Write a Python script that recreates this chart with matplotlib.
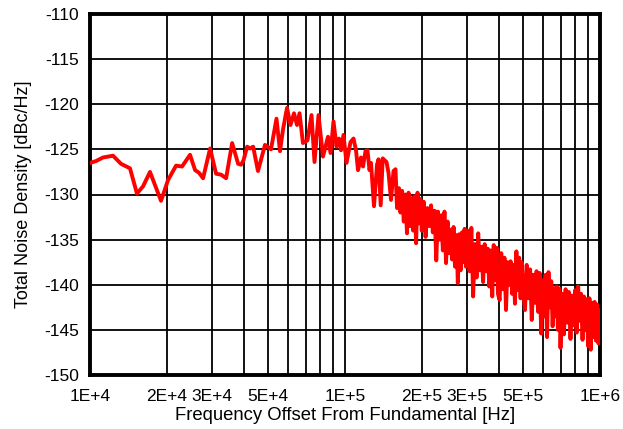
import numpy as np
import matplotlib
matplotlib.use("Agg")
import matplotlib.pyplot as plt

plt.rcParams["font.family"] = ["Liberation Sans", "DejaVu Sans"]

# Offset frequency (kHz) and total noise density (dBc/Hz)
freq_khz = [
    # 10 kHz - 100 kHz
    10.0, 10.55, 11.24, 12.31, 13.23, 14.35, 15.28, 16.14, 17.19, 18.99,
    20.23, 21.75, 22.96, 24.67, 25.83, 26.78, 27.76, 29.58, 31.22, 32.66,
    34.18, 36.09, 38.10, 39.14, 40.00, 41.33, 42.46, 43.63, 45.58, 48.56,
    51.26, 53.87, 55.60, 57.13, 59.24, 61.14, 63.10, 64.83, 66.32, 68.42,
    71.26, 73.90, 75.93, 78.73, 81.96, 85.77, 87.73, 90.14, 92.61, 94.73,
    96.45, 98.65,
    # 100 kHz - 165 kHz
    101.36, 105.09, 107.98, 110.45, 112.46, 115.55, 117.65, 120.33, 122.53, 124.76,
    126.46, 129.93, 133.50, 135.32, 138.04, 140.56, 145.47, 148.12, 151.50, 154.96,
    157.79, 159.94, 162.85,
    # 165 kHz - 200 kHz
    165, 167.5, 170, 172.5, 175, 177.5, 180, 182.5, 185, 187.5,
    190, 192.5, 195, 197.5, 200,
    # 200 kHz - 300 kHz
    203.5, 207, 210.5, 214, 217.5, 221, 224.5, 228, 231.5, 235,
    238.5, 242, 245.5, 249, 252.5, 256, 259.5, 263, 266.5, 270,
    273.5, 277, 280.5, 284, 287.5, 291, 294.5, 298,
    # 300 kHz - 400 kHz
    303, 308, 313, 318, 323, 328, 333, 338, 343, 348,
    353, 358, 363, 368, 373, 378, 383, 388, 393, 398,
    # 400 kHz - 500 kHz
    404, 410, 416, 422, 428, 434, 440, 446, 452, 458,
    464, 470, 476, 482, 488, 494, 500,
    # 500 kHz - 700 kHz
    508, 516, 524, 532, 540, 548, 556, 564, 572, 580,
    588, 596, 604, 612, 620, 628, 636, 644, 652, 660,
    668, 676, 684, 692, 700,
    # 700 kHz - 1 MHz
    711, 722, 733, 744, 755, 766, 777, 788, 799, 810,
    821, 832, 843, 854, 865, 876, 887, 898, 909, 920,
    931, 942, 953, 964, 975, 986, 997,
]

noise_dbc = [
    # 10 kHz - 100 kHz
    -126.5, -126.3, -125.9, -125.7, -126.6, -127.1, -129.9, -129.1, -127.5, -130.7,
    -128.4, -126.8, -126.9, -125.6, -127.3, -127.6, -128.2, -124.9, -127.7, -127.8,
    -128.2, -124.3, -126.6, -126.7, -126.2, -124.7, -124.9, -124.7, -127.4, -124.5,
    -125.0, -121.6, -125.2, -122.8, -120.4, -122.3, -121.0, -122.3, -121.0, -124.3,
    -124.0, -121.2, -126.4, -121.2, -125.8, -123.6, -125.4, -121.9, -124.7, -123.8,
    -125.1, -123.4,
    # 100 kHz - 165 kHz
    -126.5, -124.2, -123.8, -125.1, -127.3, -125.9, -126.9, -125.2, -125.1, -127.3,
    -126.5, -131.3, -126.7, -126.1, -131.2, -126.0, -126.4, -127.6, -130.6, -127.4,
    -127.2, -131.5, -129.3,
    # 165 kHz - 200 kHz
    -132.0, -129.6, -133.0, -130.0, -134.3, -129.8, -133.5, -130.4, -134.0, -130.2,
    -135.4, -129.8, -133.2, -130.5, -134.0,
    # 200 kHz - 300 kHz
    -130.8, -134.7, -131.5, -133.5, -131.2, -134.2, -131.8, -137.3, -131.9, -135.0,
    -132.3, -136.2, -131.9, -137.6, -133.0, -136.5, -133.9, -137.2, -133.6, -138.0,
    -134.5, -139.8, -134.4, -138.4, -134.2, -137.5, -133.8, -138.0,
    # 300 kHz - 400 kHz
    -134.0, -138.5, -133.7, -141.3, -135.5, -139.2, -134.3, -138.4, -135.8, -139.7,
    -135.5, -138.5, -136.0, -140.2, -136.2, -141.3, -135.6, -139.5, -135.9, -141.0,
    # 400 kHz - 500 kHz
    -141.7, -136.5, -140.5, -137.0, -142.8, -137.5, -140.0, -137.4, -141.0, -137.8,
    -142.1, -136.3, -140.6, -137.0, -141.5, -137.5, -140.8,
    # 500 kHz - 700 kHz
    -142.8, -137.8, -141.5, -138.3, -143.9, -138.9, -142.0, -138.5, -143.0, -138.7,
    -145.4, -139.5, -143.5, -138.9, -145.8, -138.6, -142.5, -139.6, -144.6, -140.4,
    -143.5, -140.2, -145.0, -140.4, -147.0,
    # 700 kHz - 1 MHz
    -141.0, -145.5, -140.5, -144.2, -140.8, -146.0, -141.2, -144.5, -140.6, -145.3,
    -140.2, -144.0, -141.0, -146.1, -141.3, -145.0, -141.6, -146.8, -141.5, -147.2,
    -142.0, -145.8, -141.9, -146.2, -142.2, -146.5, -142.8,
]

x_major = [1e4, 2e4, 3e4, 5e4, 1e5, 2e5, 3e5, 5e5, 1e6]
x_major_labels = ["1E+4", "2E+4", "3E+4", "5E+4", "1E+5", "2E+5", "3E+5", "5E+5", "1E+6"]
x_minor = [4e4, 6e4, 7e4, 8e4, 9e4, 4e5, 6e5, 7e5, 8e5, 9e5]
y_ticks = [-150, -145, -140, -135, -130, -125, -120, -115, -110]

fig = plt.figure(figsize=(6.23, 4.29), dpi=100)
ax = fig.add_axes([90 / 623, 1 - 375 / 429, 510 / 623, 361 / 429])

freq_hz = np.array(freq_khz) * 1e3
ax.semilogx(freq_hz, noise_dbc, color="#ff0000", linewidth=2.8,
            solid_joinstyle="round", zorder=3)

ax.set_xlim(1e4, 1e6)
ax.set_ylim(-150, -110)
ax.set_xticks(x_major, x_major_labels)
ax.set_xticks(x_minor, minor=True)
ax.set_xticklabels([], minor=True)
ax.set_yticks(y_ticks, [str(v) for v in y_ticks])

ax.grid(True, which="both", axis="x", color="black", linewidth=1.3)
ax.grid(True, which="major", axis="y", color="black", linewidth=1.3)
ax.set_axisbelow(True)

ax.tick_params(which="both", length=0, labelsize=12.5, colors="black")
ax.tick_params(axis="x", pad=10)
ax.tick_params(axis="y", pad=8)
for sp in ax.spines.values():
    sp.set_linewidth(2.8)
    sp.set_color("black")

ax.set_xlabel("Frequency Offset From Fundamental [Hz]", fontsize=13.3, labelpad=2)
ax.set_ylabel("Total Noise Density [dBc/Hz]", fontsize=13, labelpad=9)

fig.savefig("out.png", dpi=100, facecolor="white")
